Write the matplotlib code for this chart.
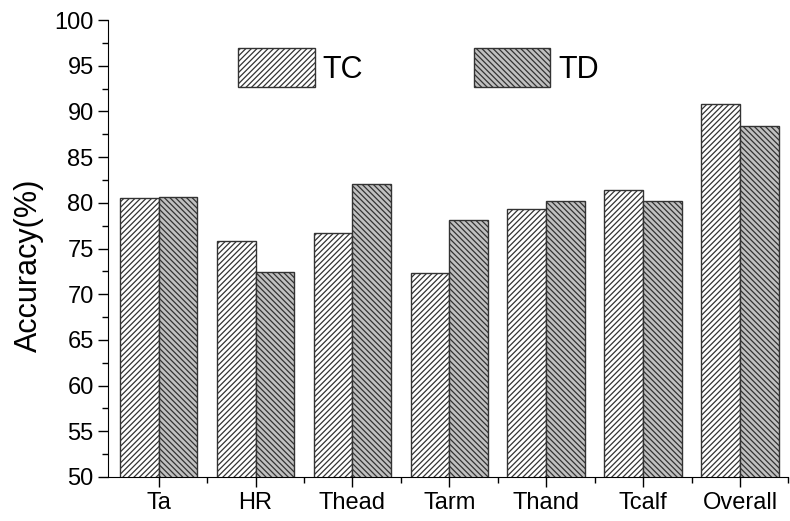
import numpy as np
import matplotlib.pyplot as plt
from matplotlib.ticker import MultipleLocator

plt.rcParams['font.family'] = ['Liberation Sans', 'DejaVu Sans']
plt.rcParams['hatch.linewidth'] = 0.9

categories = ['Ta', 'HR', 'Thead', 'Tarm', 'Thand', 'Tcalf', 'Overall']
tc = [80.5, 75.8, 76.7, 72.3, 79.3, 81.4, 90.8]
td = [80.6, 72.4, 82.1, 78.1, 80.2, 80.2, 88.4]

fig = plt.figure(figsize=(7.9, 5.21), dpi=100)
ax = fig.add_axes([0.137, 0.0845, 0.861, 0.877])

x = np.arange(len(categories))
w = 0.4
ax.bar(x - w/2, tc, w, color='white', edgecolor='#333333',
       hatch='//////', linewidth=1.0, label='TC')
ax.bar(x + w/2, td, w, color='#c0c0c0', edgecolor='#333333',
       hatch='\\\\\\\\\\\\', linewidth=1.0, label='TD')

ax.set_ylim(50, 100)
ax.set_xlim(-0.52, 6.5)
ax.set_xticks(x)
ax.set_xticklabels(categories)
ax.set_xticks(x + 0.5, minor=True)
ax.yaxis.set_major_locator(MultipleLocator(5))
ax.yaxis.set_minor_locator(MultipleLocator(2.5))
ax.tick_params(axis='both', which='major', direction='out', length=7, width=1, labelsize=17)
ax.tick_params(axis='both', which='minor', direction='out', length=4, width=1)
ax.spines['top'].set_visible(False)
ax.spines['right'].set_visible(False)
ax.set_ylabel('Accuracy(%)', fontsize=22)
ax.yaxis.set_label_coords(-0.094, 0.464)

ax.legend(ncol=2, frameon=False, fontsize=22, loc='upper center',
          bbox_to_anchor=(0.456, 0.999), handlelength=2.5, handleheight=1.6,
          columnspacing=3.64, handletextpad=0.25)

fig.savefig('out.png', dpi=100)
